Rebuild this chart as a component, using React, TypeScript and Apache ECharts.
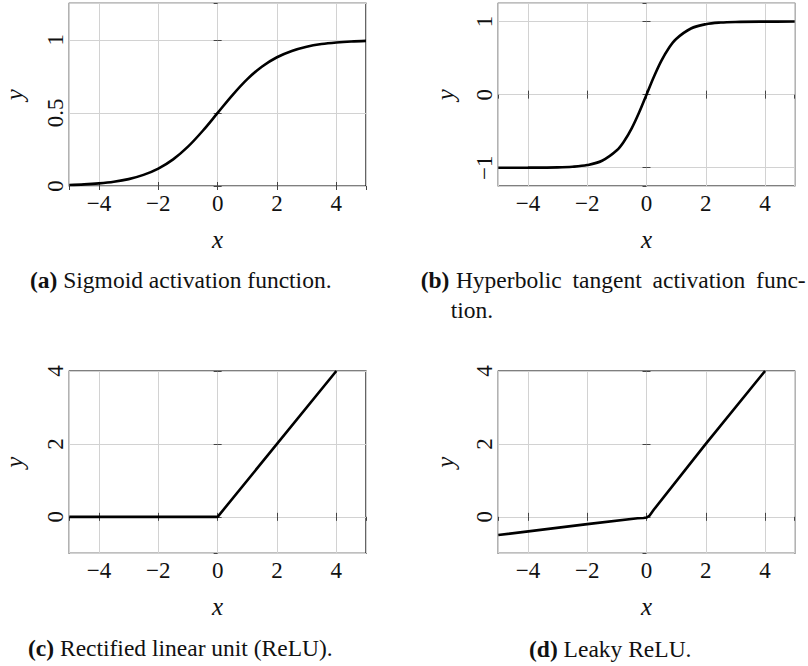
import React, { useEffect, useRef } from "react";
import * as echarts from "echarts";

// ---- Data ----
const sigmoidX = [-5, -4.5, -4, -3.5, -3, -2.5, -2, -1.5, -1, -0.5, 0, 0.5, 1, 1.5, 2, 2.5, 3, 3.5, 4, 4.5, 5];
const sigmoidY = [0.007, 0.011, 0.018, 0.029, 0.047, 0.076, 0.119, 0.182, 0.269, 0.378, 0.5, 0.622, 0.731, 0.818, 0.881, 0.924, 0.953, 0.971, 0.982, 0.989, 0.993];

const tanhX = [-5, -4, -3, -2.5, -2, -1.5, -1, -0.75, -0.5, -0.25, 0, 0.25, 0.5, 0.75, 1, 1.5, 2, 2.5, 3, 4, 5];
const tanhY = [-1.0, -0.999, -0.995, -0.987, -0.964, -0.905, -0.762, -0.635, -0.462, -0.245, 0, 0.245, 0.462, 0.635, 0.762, 0.905, 0.964, 0.987, 0.995, 0.999, 1.0];

const reluX = [-5, 0, 4];
const reluY = [0, 0, 4];

const leakyX = [-5, -2, -0.3, -0.1, 0, 0.1, 0.25, 2, 4];
const leakyY = [-0.5, -0.2, -0.04, -0.03, -0.02, 0.03, 0.2, 2, 4];

const captionLabels = ["(a)", "(b)", "(c)", "(d)"];
const captionTexts = ["Sigmoid activation function.", "Hyperbolic tangent activation func-", "Rectified linear unit (ReLU).", "Leaky ReLU."];
const captionBWords = ["Hyperbolic", "tangent", "activation", "func-"];
const captionBLine2 = "tion.";

const xName = "x";
const yName = "y";

const SERIF = "Liberation Serif";
const TICK_FONT = 23;

const panels = [
  { left: 69.3, top: 3.3, width: 296.7, height: 182.7, yMin: 0, yMax: 1.25, yInterval: 0.5, ySplit: 0, xs: sigmoidX, ys: sigmoidY, smooth: true, yGap: 42, showMaxY: false },
  { left: 498.3, top: 3.3, width: 296.4, height: 182.7, yMin: -1.25, yMax: 1.25, yInterval: 0, ySplit: 2, xs: tanhX, ys: tanhY, smooth: true, yGap: 40, showMaxY: false },
  { left: 69.3, top: 371, width: 296.7, height: 182.3, yMin: -1, yMax: 4, yInterval: 0, ySplit: 3, xs: reluX, ys: reluY, smooth: false, yGap: 42, showMaxY: true },
  { left: 498.3, top: 371, width: 296.4, height: 182.3, yMin: -1, yMax: 4, yInterval: 0, ySplit: 3, xs: leakyX, ys: leakyY, smooth: false, yGap: 40, showMaxY: true },
];

const fmt = (v: number) => String(v).replace("-", "\u2212");

function buildOption() {
  const grid: any[] = [];
  const xAxis: any[] = [];
  const yAxis: any[] = [];
  const series: any[] = [];
  const tick = { show: true, inside: true, length: 4, lineStyle: { color: "#444", width: 1 } };
  panels.forEach((p, i) => {
    grid.push({
      left: p.left, top: p.top, width: p.width, height: p.height,
      show: true, borderColor: "#000", borderWidth: 1.2, backgroundColor: "transparent",
    });
    const xBase = { type: "value", gridIndex: i, min: -5, max: 5, splitNumber: 5 };
    xAxis.push({
      ...xBase, position: "bottom",
      axisLine: { show: false }, axisTick: tick,
      splitLine: { show: true, lineStyle: { color: "#d2d2d2", width: 1 } },
      axisLabel: { show: true, showMinLabel: false, showMaxLabel: false, margin: 6, fontFamily: SERIF, fontSize: TICK_FONT, color: "#111", formatter: fmt },
      name: xName, nameLocation: "middle", nameGap: 41,
      nameTextStyle: { fontFamily: SERIF, fontStyle: "italic", fontSize: 25, color: "#111" },
    });
    xAxis.push({
      ...xBase, position: "top",
      axisLine: { show: false }, axisTick: tick, splitLine: { show: false }, axisLabel: { show: false },
    });
    const yBase: any = { type: "value", gridIndex: i, min: p.yMin, max: p.yMax };
    if (p.yInterval) yBase.interval = p.yInterval; else yBase.splitNumber = p.ySplit;
    yAxis.push({
      ...yBase, position: "left",
      axisLine: { show: false }, axisTick: tick,
      splitLine: { show: true, lineStyle: { color: "#d2d2d2", width: 1 } },
      axisLabel: { show: true, rotate: 90, showMinLabel: p.yMin === 0, showMaxLabel: p.showMaxY, margin: 2, fontFamily: SERIF, fontSize: TICK_FONT, color: "#111", formatter: fmt },
      name: yName, nameLocation: "middle", nameGap: p.yGap,
      nameTextStyle: { fontFamily: SERIF, fontStyle: "italic", fontSize: 25, color: "#111" },
    });
    yAxis.push({
      ...yBase, position: "right",
      axisLine: { show: false }, axisTick: tick, splitLine: { show: false }, axisLabel: { show: false },
    });
    series.push({
      type: "line",
      xAxisIndex: i * 2,
      yAxisIndex: i * 2,
      data: p.xs.map((x, k) => [x, p.ys[k]]),
      showSymbol: false,
      smooth: p.smooth ? 0.35 : false,
      clip: true,
      lineStyle: { color: "#000", width: 2.6 },
    });
  });

  const capStyle = (text: string, x: number, y: number, align = "left") => ({
    type: "text", x, y,
    style: {
      text, fill: "#111", fontSize: 23.5, fontFamily: SERIF,
      verticalAlign: "middle", align,
      rich: { b: { fontWeight: "bold", fontSize: 23.5, fontFamily: SERIF, fill: "#111" } },
    },
  });

  const graphic: any[] = [
    capStyle(`{b|${captionLabels[0]}} ${captionTexts[0]}`, 30, 280),
    capStyle(`{b|${captionLabels[1]}}`, 420.7, 280),
    capStyle(captionBWords[0], 455.9, 280),
    capStyle(captionBWords[1], 572.5, 280),
    capStyle(captionBWords[2], 652.6, 280),
    capStyle(captionBWords[3], 805.7, 280, "right"),
    capStyle(captionBLine2, 450.7, 310),
    capStyle(`{b|${captionLabels[2]}} ${captionTexts[2]}`, 28, 648),
    capStyle(`{b|${captionLabels[3]}} ${captionTexts[3]}`, 529, 649),
  ];

  return { animation: false, backgroundColor: "#fff", grid, xAxis, yAxis, series, graphic };
}

export default function App() {
  const ref = useRef<HTMLDivElement>(null);
  useEffect(() => {
    document.body.style.margin = "0";
    const chart = echarts.init(ref.current as HTMLDivElement, null, { renderer: "svg" });
    chart.setOption(buildOption() as any);
    return () => chart.dispose();
  }, []);
  return <div ref={ref} style={{ position: "absolute", left: 0, top: 0, width: 808, height: 666 }} />;
}
